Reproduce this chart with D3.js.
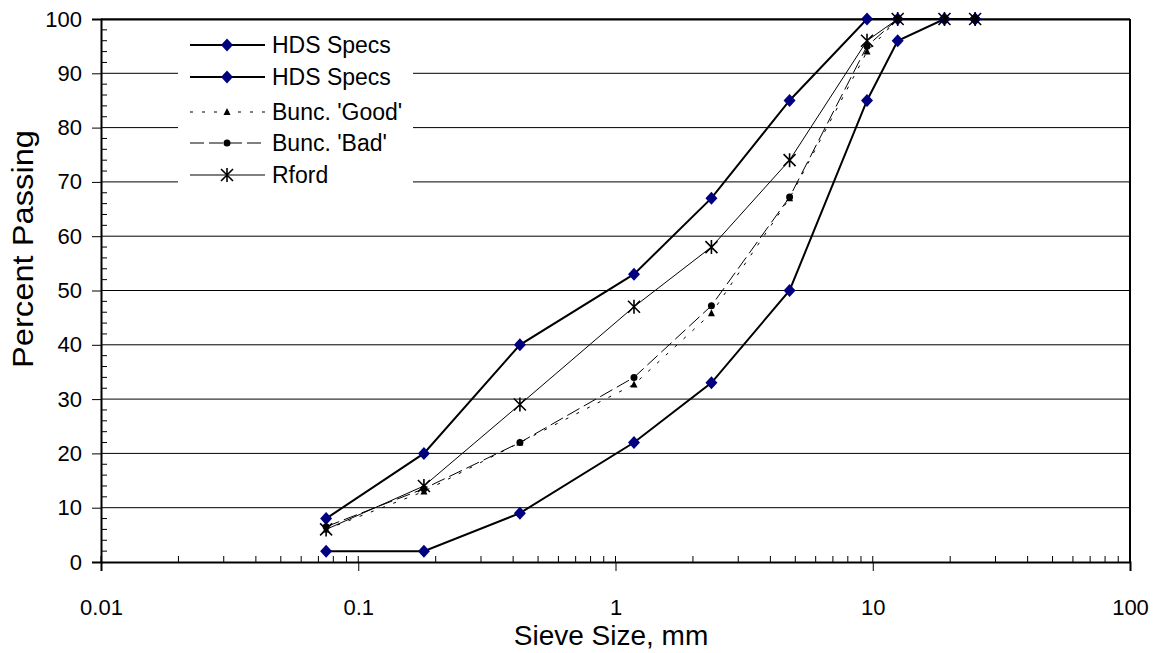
<!DOCTYPE html>
<html>
<head>
<meta charset="utf-8">
<script src="https://cdn.jsdelivr.net/npm/d3@7"></script>
<style>
  body { margin: 0; background: #fff; }
  svg { display: block; font-family: "Liberation Sans", Arial, sans-serif; }
</style>
</head>
<body>
<div class="chart"></div>
<script>
// sieve sizes, mm
const sieves = [0.075, 0.18, 0.425, 1.18, 2.36, 4.75, 9.5, 12.5, 19, 25];

const hdsUpper = [8, 20, 40, 53, 67, 85, 100, 100, 100, 100];
const hdsLower = [2, 2, 9, 22, 33, 50, 85, 96, 100, 100];
const buncGood = [6, 13, 22, 32.7, 45.8, 67, 94, 100, 100, 100];
const buncBad = [6.5, 13.5, 22, 34, 47.2, 67.2, 95, 100, 100, 100];
const rford = [6, 14, 29, 47, 58, 74, 96, 100, 100, 100];

const seriesNames = ["HDS Specs", "HDS Specs", "Bunc. 'Good'", "Bunc. 'Bad'", "Rford"];
const xTicks = [0.01, 0.1, 1, 10, 100];
const yTicks = [0, 10, 20, 30, 40, 50, 60, 70, 80, 90, 100];

const W = 1159, H = 653;
const margin = ({ top: 19, right: 29, bottom: 91, left: 101 });
const plotW = W - margin.left - margin.right;
const plotH = H - margin.top - margin.bottom;

const svg = d3.select(".chart").append("svg")
    .attr("width", W)
    .attr("height", H);

const x = d3.scaleLog().domain([0.01, 100]).range([0, plotW]);
const y = d3.scaleLinear().domain([0, 100]).range([plotH, 0]);

const g = svg.append("g").attr("transform", `translate(${margin.left}, ${margin.top})`);

// gridlines
g.append("g").selectAll("line")
    .data(yTicks.filter(d => d > 0))
    .join("line")
    .attr("x1", 0).attr("x2", plotW)
    .attr("y1", d => y(d)).attr("y2", d => y(d))
    .attr("stroke", "#000")
    .attr("stroke-width", 1);

// frame (top & right)
g.append("line").attr("x1", 0).attr("x2", plotW).attr("y1", 0.5).attr("y2", 0.5)
    .attr("stroke", "#000").attr("stroke-width", 2);
g.append("line").attr("x1", plotW).attr("x2", plotW).attr("y1", 0).attr("y2", plotH)
    .attr("stroke", "#000").attr("stroke-width", 2);

// legend background, covers the gridlines
const legX = 178, legY = 24;
svg.append("rect")
    .attr("x", legX).attr("y", legY)
    .attr("width", 235).attr("height", 166)
    .attr("fill", "#fff");

// minor y ticks (inside)
const yMinor = d3.range(2, 100, 2).filter(d => d % 10 !== 0);
g.append("g").selectAll("line")
    .data(yMinor)
    .join("line")
    .attr("x1", 0).attr("x2", 6)
    .attr("y1", d => y(d)).attr("y2", d => y(d))
    .attr("stroke", "#000");

// y axis
const yAxis = g.append("g")
    .call(d3.axisLeft(y).tickValues(yTicks).tickSize(9).tickPadding(10).tickFormat(d3.format("d")));
yAxis.select(".domain").attr("stroke-width", 2);
yAxis.selectAll("text").attr("font-size", 22).attr("font-family", "Liberation Sans, Arial").attr("fill", "#000");

// minor x ticks (inside)
const xMinor = [];
[0.01, 0.1, 1, 10].forEach(dec => {
    for (let k = 2; k <= 9; k++) xMinor.push(dec * k);
});
g.append("g").selectAll("line")
    .data(xMinor)
    .join("line")
    .attr("x1", d => x(d)).attr("x2", d => x(d))
    .attr("y1", plotH - 6).attr("y2", plotH)
    .attr("stroke", "#000");

// major x ticks cross the axis
g.append("g").selectAll("line")
    .data(xTicks)
    .join("line")
    .attr("x1", d => x(d)).attr("x2", d => x(d))
    .attr("y1", plotH - 6).attr("y2", plotH)
    .attr("stroke", "#000");

const xAxis = g.append("g")
    .attr("transform", `translate(0, ${plotH})`)
    .call(d3.axisBottom(x).tickValues(xTicks).tickSize(9).tickPadding(28).tickFormat(d => String(d)));
xAxis.select(".domain").attr("stroke-width", 2);
xAxis.selectAll("text").attr("font-size", 22).attr("font-family", "Liberation Sans, Arial").attr("fill", "#000");

// series
const series = [
    { name: seriesNames[0], values: hdsUpper, width: 2, dash: null, marker: "diamond" },
    { name: seriesNames[1], values: hdsLower, width: 2, dash: null, marker: "diamond" },
    { name: seriesNames[2], values: buncGood, width: 1, dash: "3,9", marker: "triangle" },
    { name: seriesNames[3], values: buncBad, width: 1, dash: "14,5", marker: "circle" },
    { name: seriesNames[4], values: rford, width: 1, dash: null, marker: "star" }
];

const line = d3.line()
    .x(d => x(d[0]))
    .y(d => y(d[1]));

function drawMarker(sel, type) {
    if (type === "diamond") {
        sel.append("path").attr("d", "M0,-6.5L6,0L0,6.5L-6,0Z").attr("fill", "#000080");
    } else if (type === "triangle") {
        sel.append("path").attr("d", "M0,-4L3.5,3L-3.5,3Z").attr("fill", "#000");
    } else if (type === "circle") {
        sel.append("circle").attr("r", 3.5).attr("fill", "#000");
    } else if (type === "star") {
        sel.append("path").attr("d", "M-6,-6L6,6M-6,6L6,-6M0,-7L0,7")
            .attr("stroke", "#000").attr("stroke-width", 1.6).attr("fill", "none");
    }
}

series.forEach(s => {
    const pts = sieves.map((v, i) => [v, s.values[i]]);
    g.append("path")
        .datum(pts)
        .attr("d", line)
        .attr("fill", "none")
        .attr("stroke", "#000")
        .attr("stroke-width", s.width)
        .attr("stroke-dasharray", s.dash);
    g.append("g").selectAll("g")
        .data(pts)
        .join("g")
        .attr("transform", d => `translate(${x(d[0])}, ${y(d[1])})`)
        .each(function() { drawMarker(d3.select(this), s.marker); });
});

// legend
const legRows = [45, 77, 112, 143, 175];
series.forEach((s, i) => {
    const row = svg.append("g").attr("transform", `translate(190, ${legRows[i]})`);
    row.append("line")
        .attr("x1", 0).attr("x2", 75)
        .attr("stroke", "#000")
        .attr("stroke-width", s.width)
        .attr("stroke-dasharray", s.dash);
    drawMarker(row.append("g").attr("transform", "translate(37, 0)"), s.marker);
    row.append("text")
        .attr("x", 82).attr("y", 8)
        .attr("font-size", 23)
        .attr("fill", "#000")
        .text(s.name);
});

// axis titles
svg.append("text")
    .attr("x", 611)
    .attr("y", 645)
    .attr("text-anchor", "middle")
    .attr("font-size", 28)
    .text("Sieve Size, mm");

svg.append("text")
    .attr("transform", `translate(33, 249) rotate(-90)`)
    .attr("text-anchor", "middle")
    .attr("font-size", 29)
    .attr("textLength", 238)
    .attr("lengthAdjust", "spacingAndGlyphs")
    .text("Percent Passing");
</script>
</body>
</html>
